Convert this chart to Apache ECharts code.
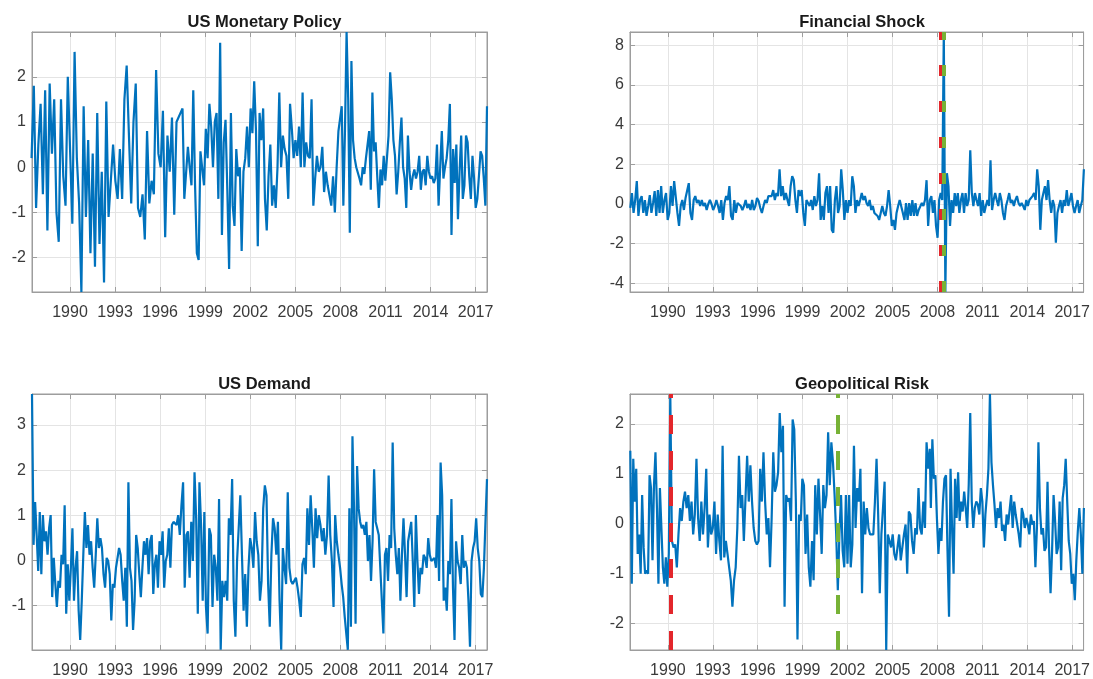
<!DOCTYPE html>
<html><head><meta charset="utf-8">
<script src="https://cdn.jsdelivr.net/npm/echarts@6/dist/echarts.min.js"></script>
<style>html,body{margin:0;padding:0;background:#fff}#c{width:1093px;height:679px}</style>
</head><body><div id="c"></div>
<script>
// ---------- data ----------
const titles = ['US Monetary Policy', 'Financial Shock', 'US Demand', 'Geopolitical Risk'];
const yearTicks = [1990, 1993, 1996, 1999, 2002, 2005, 2008, 2011, 2014, 2017];
const yTicks = [[-2, -1, 0, 1, 2], [-4, -2, 0, 2, 4, 6, 8], [-1, 0, 1, 2, 3], [-2, -1, 0, 1, 2]];

// US Monetary Policy
const mpA = [0.2,1.8,-0.9,0.5,1.4,-0.6,1.7,-1.4,1.85,0.3,1.5,-1.0,-1.65,1.5,-0.2,-0.85,2.0,0.4,-1.25,2.55,0.2,-0.8,-2.76,1.35,-1.1,0.6,-1.9,0.3,-2.2,1.2,-1.7,-0.1,-2.55,1.45,-1.1,-0.3,0.5,-0.3,-0.7,0.4,-0.7,1.5,2.25,0.7,-0.8,1.0,1.85,-0.9,-1.1,-0.6,-1.6,0.8,-0.8,-0.3,-0.6,2.15,0.3,0.0,1.25,-1.55,0.7,-0.1,1.1,-1.05,1.0];
const mpB = [1.3,-0.7,-0.7,0.45,0.0,-0.4,1.7,-0.4,-1.9,-2.05,0.35,0.35,-0.4,0.85,0.2,1.4,0.9,0,1.0,1.2,-0.7,2.75,-1.5,0.55,1.05,-0.5,-2.25,1.2,-0.85,-1.3,0.4,-0.2,0,-1.85,-0.1,0.2,0.9,0,1.3,0.75,1.9,0.8,-1.75,1.2,0.6,1.3,-0.7,-1.4,-0.2,0.5,-0.85,-0.4,-0.9,0,1.65,0,0.7,0.4,0.25,-0.7,1.4,0.85,0.2,0.6,0.25,0.9,0,1.65,0,0.55,0.25,0.2,1.5,-0.85,-0.25,0.25,-0.1,0,0.45,-0.55,-0.1,-0.4,-0.4,-0.85,-0.2,-1.0,0,0.8];
const mpC = [1.35,-0.85,0.8,2.99,1.5,-1.45,2.35,0.6,0.2,0,0,-0.25,-0.4,0,-0.15,0.2,0.2,0.8,-0.5,1.65,0.35,0.55,-0.2,-0.9,-0.05,-0.4,0.25,-0.3,0.2,0.7,2.1,1.5,0.6,0.25,-0.6,-0.1,0.55,1.1,0,-0.25,-0.9,0.7,-0.1,-0.5,-0.2,-0.05,-0.25,-0.1,0.25,-0.5,-0.1,-0.05,-0.4,0.25,-0.1,-0.25,-0.2,-0.35,-0.25,0.5,-0.85,0,0.8,-0.25,0,0.2,0.6,1.4,-1.5,0.4,-0.35,0.5,-1.15,-0.1,0.7,-0.7,-0.4,0.7,0.55,-0.2,-0.7,0.25,-0.25,-0.9,-0.7,-0.2,0.35,0.25,-0.25,-0.85,1.35];

// Financial Shock
const finA = [-0.2,0.55,-0.45,0.2,1.15,-0.6,0.2,0.4,-0.45,0.2,-0.6,-0.1,0.45,-0.45,0.05,0.65,-0.6,0.7,-0.45,0.9,-0.45,0.2,0.55,-0.8,-0.45,0.9,-0.1,1.15,1.2,-0.45,-1.1,-0.1,0.2,-0.3,0.3,0.2,1.05,-0.45,-0.8,0.2,0.4,0.05,0.2,-0.1,0.2,-0.1,0.05,-0.3,0,0.2,0,-0.3,-0.1,0.2,-0.1,-0.45,0.2,-0.8,0.05,0.4,0.2,0.9,-0.6,-0.8,0.2,-0.45,0.05,0,-0.1,-0.3,-0.1,0.2,-0.2,0,-0.3,0.2,-0.3,-0.1,0.3,0.15,-0.2,-0.45,-0.1,0.2,0.05,0.4,0.3];
const finB = [0.4,0.7,0.2,0.55,0.4,1.75,0.4,0.9,0.2,0.55,0.2,-0.1,0.9,1.4,1.2,0.2,-0.45,0.7,0.4,0.7,-0.45,-1.1,0.2,0.05,-0.1,0.2,-0.3,0.4,-0.1,0.2,1.55,-0.8,-0.1,-0.8,0.55,0.9,-0.45,0.9,-1.3,-1.45,0.2,0.9,-0.45,-0.1,1.75,0.7,-0.8,0.2,-0.45,0.2,-0.1,1.4,0.9,-0.45,0.2,-0.1,0.2,0.55,0.2,0.4,0.05,-0.1,0.2,-0.3,-0.1,-0.45,-0.35,-0.6,-0.8,-0.45,-0.1,-0.45,-0.6,-0.1,0.7,-0.1,-1.1,-0.8,-1.3,-0.45,-0.1,0.2,0.2,-0.45,-0.8,0.05,-0.8,0.05,-0.6,0.2,-0.6,0.05,-0.6,-0.3,-0.3,0.05,-0.1,0.2,1.2,-1.1];
const finC = [0.2,0.4,-0.45,0.2,-1.1,-1.7,0.2,0.55,0.2,8.66,-4.43,1.55,0.9,-1.1,0.2,-0.45,0.55,-0.1,0.55,-0.45,0.2,0.55,-0.45,0.55,-0.1,0.2,2.7,0.55,-0.1,0.55,0.2,-0.1,0.55,-0.6,0.2,-0.45,-0.1,0.2,-0.1,2.2,-0.3,0.2,0.55,0.2,-0.1,0.55,0.2,-0.45,-0.8,-0.1,0.2,0.55,0.05,0.2,-0.1,0.2,0.4,0.05,-0.1,0.05,-0.1,-0.3,0.2,-0.1,0.2,0.2,0.4,0.55,0.2,1.75,0.9,-1.3,0.2,0.55,0.9,0.2,1.2,0.2,-0.45,0.2,-0.1,-1.95,-0.45,-0.1,0.2,-0.45,0.2,-0.1,0.7,-0.1,0.2,0.55,-0.1,-0.45,-0.1,0.2,-0.45,-0.1,0.2,1.75];

// US Demand
const demA = [3.69,0.34,1.29,0.56,-0.24,1.07,-0.31,1.0,0.42,0.64,0.12,0.71,1.0,-0.82,0.05,-0.53,-1.04,-0.46,-0.61,0.12,-0.09,1.22,-1.19,-0.09,-0.9,-0.17,0.71,-0.9,-0.17,0.2,-1.12,-1.77,-0.9,0.12,1.07,0.27,0.78,0.12,0.42,-0.17,-0.61,0.12,0.93,0.27,0.49,0.27,-0.31,-0.61,0.05,-0.02,-0.31,-1.34,-0.53,-0.61,-0.17,-0.17,0.27,0.12,-0.46,-0.9,-0.17,-1.48,1.73,-0.17,-0.46,-1.55,-0.9,0.56,0.27,-0.31,-0.82,-0.17,0.42,0.12,0.49,-0.31,0.42,0.56,-0.75,-0.09,0.12,-0.61,0.42,0.12,0.64,-0.61,-0.02,0.12,0.71,-0.17,0.78,0.85,0.85,0.78,1.0];
const demB = [0.56,1.22,1.73,-0.61,0.56,0.64,-0.39,0.85,-0.02,1.95,0.93,-1.19,1.73,0.78,-0.9,1.07,-1.04,-1.63,0.71,0.56,-1.04,0.12,-0.17,-0.9,1.36,-1.99,-0.46,-0.82,-0.46,-0.9,0.93,0.56,1.8,-0.9,-1.7,-0.02,0.71,1.44,0.12,-1.12,-0.31,-1.48,-0.17,0.49,0.27,-0.17,1.07,0.42,0.12,-0.9,-0.46,1.15,1.66,1.44,-0.53,-1.48,0.12,0.93,0.71,0.12,0.85,-0.9,-1.99,0.27,-0.17,-0.53,1.51,-0.17,-0.46,-0.53,-0.46,-0.39,-0.61,-0.9,-1.26,-0.09,0.05,-0.31,1.15,0.34,1.44,0.71,-0.17,1.15,0.49,1.0,0.78,0.42,0.71,0.12,0.56,1.88,0.56,-0.02,-1.04,1.0,0.42,0.12];
const demC = [-0.17,-0.53,-0.82,-1.26,-1.63,-1.99,1.15,-1.48,2.75,1.15,-1.41,2.09,1.15,0.85,0.71,0.78,0.56,0.85,-0.02,0.56,-0.46,0.42,2.02,0.85,0.71,0.56,0.56,-0.9,-1.63,0.12,0.27,-0.46,0.56,0.27,2.61,0.71,0.12,-0.31,0.27,-0.9,0.12,0.93,0.12,-0.82,0.42,0.42,0.85,-0.02,-1.04,1.0,-0.02,-0.75,-0.17,-0.31,0.12,0.05,-0.17,0.49,0.12,-0.02,-0.02,0.05,-0.17,1.0,-0.46,2.17,1.44,-0.9,-0.61,-1.12,-0.02,-0.31,1.36,-0.61,-1.77,0.42,-0.02,-0.17,-0.53,0.56,-0.17,-0.02,-0.17,-0.9,-1.92,-0.02,0.27,0.42,0.93,0.27,-0.02,-0.75,-0.82,-0.17,0.85,1.8];

// Geopolitical Risk
const geoA1 = [1.46,-1.21,1.30,0.44,1.10,-0.61,-0.22,-1.01,0.57,-0.48,-1.01,-0.94,-1.01,0.97,0.71,-0.74,0.77,1.43,0.31,-1.21,0.71,-0.09,-0.88,-1.21,-0.68,-1.27,-0.61,2.6];
const geoA2 = [-0.35,-0.48,-0.42,-0.88,-0.22,0.31,0.05,0.44,0.64,0.31,0.57,0.05,0.44,-0.22,0.18,1.30,0.11,-0.35,0.44,-0.22,0.31,1.10,-0.48,0.18,-0.22,-0.09,0.44,-0.61,0.18,-0.35,-0.74,1.56,-0.68,-0.35,-0.61,-0.88,-1.14,-1.67,-1.14,-0.88,-0.09,1.36,0.31,0.57,-0.35,-0.35,1.36,0.44,1.17,0.44,-0.09,-0.35,-0.42,-0.35,1.10,0.44,1.43,0.44,-0.22,0.11,-0.88];
const geoB = [0.11,1.43,0.64,0.77,1.03,2.22,1.43,1.96,-1.67,0.57,0.44,0.51,0.05,2.09,1.89,0.44,-2.33,0.18,0.05,0.9,0.77,-0.61,0.18,-0.88,-1.27,-0.35,-1.14,0.77,-0.22,0.9,0.18,-0.61,0.77,0.31,0.57,1.83,0.77,1.63,1.23,0.57,-0.22,-1.34,-0.22,0.57,-0.55,-0.88,0.57,-0.81,0.57,-0.88,-0.42,1.56,-0.09,0.71,0.44,1.1,-1.4,0.44,-0.22,0.31,-0.09,-0.22,-0.22,-0.22,0.44,1.3,0.18,-1.4,-0.22,0.31,0.84,-2.54,-0.22,-0.35,-0.48,-0.22,-0.61,-0.74,-0.48,-0.22,-0.74,-0.48,-0.22,-0.02,-1.01,0.24,0.18,-0.35,-0.61,-0.09,-0.22,0.71,-0.09,-0.22,0.44,-0.09,1.63,1.1,1.5];
const geoC = [0.31,1.69,0.9,0.97,0.11,-0.61,-0.09,-0.35,0.44,0.9,0.97,-0.55,-1.87,1.1,-0.09,-1.01,0.9,0.11,1.03,0.05,0.44,0.24,0.64,0.31,-0.09,0.77,2.22,0.44,-0.09,0.31,0.44,0.38,0.18,0.71,0.44,-0.48,0.18,0.57,1.1,2.6,1.23,0.77,0.38,-0.09,0.31,0.11,0.44,-0.15,-0.02,-0.35,0.18,-0.02,-0.02,0.57,-0.09,0.44,0.18,-0.02,-0.22,-0.48,0.31,0.18,-0.09,0.11,-0.02,-0.22,0.18,-0.02,0.05,-0.88,-0.09,1.63,0.31,-0.22,-0.09,-0.55,-0.48,0.84,-0.48,-1.4,-0.55,0.57,0.05,-0.61,-0.48,0.44,-0.94,0.51,0.77,1.3,0.44,-0.35,-0.61,-1.21,-1.01,-1.54,-0.74,-0.15,0.31,-0.22,-1.01,0.31];

// event lines (year)
const finEvents = [{year: 2008.25, color: '#e3262b'}, {year: 2008.42, color: '#77b236'}];
const geoEvents = [{year: 1990.22, color: '#e3262b'}, {year: 2001.32, color: '#77b236'}];

// ---------- build ----------
const X_MIN = 1987.47, X_MAX = 2017.76;
function seg(t0, t1, vals) {
  const n = vals.length;
  return vals.map((v, i) => [t0 + (t1 - t0) * (n > 1 ? i / (n - 1) : 0), v]);
}
const seriesData = [
  [].concat(seg(1987.44, 1997.09, mpA), seg(1997.49, 2007.87, mpB), seg(2008.09, 2017.76, mpC)),
  [].concat(seg(1987.49, 1996.82, finA), seg(1996.93, 2007.38, finB), seg(2007.49, 2017.78, finC)),
  [].concat(seg(1987.47, 1997.20, demA), seg(1997.31, 2007.87, demB), seg(2007.98, 2017.76, demC)),
  [].concat(seg(1987.49, 1990.16, geoA1), seg(1990.27, 1996.82, geoA2), seg(1996.93, 2007.49, geoB), seg(2007.56, 2017.78, geoC))
];
const yRanges = [[-2.76, 2.99], [-4.43, 8.66], [-1.995, 3.69], [-2.54, 2.6]];
const events = [[], finEvents, [], geoEvents];
const dashes = [null, [11, 25], null, [19, 17]];

const FONT = '"Liberation Sans", Arial, Helvetica, sans-serif';
const BOX = '#9d9d9d', GRIDC = '#e4e4e4', TXT = '#3a3a3a', BLUE = '#0072BD';
const layout = [
  {left: 32, top: 32, width: 455, height: 260},
  {left: 630, top: 32, width: 454, height: 260},
  {left: 32, top: 394, width: 455, height: 260},
  {left: 630, top: 394, width: 454, height: 260}
];

const grid = [], xAxis = [], yAxis = [], series = [], title = [];
layout.forEach((g, i) => {
  grid.push(Object.assign({show: true, borderColor: BOX, borderWidth: 1, backgroundColor: '#fff', containLabel: false}, g));
  title.push({
    text: titles[i], left: g.left + g.width / 2, top: g.top - 23, textAlign: 'center',
    textStyle: {fontFamily: FONT, fontSize: 16.5, fontWeight: 'bold', color: '#1a1a1a'}
  });
  const xCommon = {
    type: 'value', gridIndex: i, min: X_MIN, max: X_MAX,
    axisLine: {show: true, onZero: false, lineStyle: {color: BOX, width: 1}},
    axisTick: {show: true, inside: true, length: 5, customValues: yearTicks, lineStyle: {color: BOX, width: 1}}
  };
  xAxis.push(Object.assign({}, xCommon, {
    position: 'bottom',
    splitLine: {show: true, lineStyle: {color: GRIDC, width: 1}},
    axisLabel: {
      show: true, margin: 13, fontSize: 16, color: TXT, fontFamily: FONT,
      customValues: yearTicks, formatter: v => String(Math.round(v))
    }
  }));
  xAxis.push(Object.assign({}, xCommon, {position: 'top', splitLine: {show: false}, axisLabel: {show: false}}));
  const [ymin, ymax] = yRanges[i];
  const yCommon = {
    type: 'value', gridIndex: i, min: ymin, max: ymax,
    axisLine: {show: true, onZero: false, lineStyle: {color: BOX, width: 1}},
    axisTick: {show: true, inside: true, length: 5, customValues: yTicks[i], lineStyle: {color: BOX, width: 1}}
  };
  yAxis.push(Object.assign({}, yCommon, {
    position: 'left',
    splitLine: {show: true, lineStyle: {color: GRIDC, width: 1}},
    axisLabel: {
      show: true, margin: 6, fontSize: 16, color: TXT, fontFamily: FONT,
      customValues: yTicks[i], formatter: v => String(Math.round(v))
    }
  }));
  yAxis.push(Object.assign({}, yCommon, {position: 'right', splitLine: {show: false}, axisLabel: {show: false}}));

  const s = {
    type: 'line', xAxisIndex: 2 * i, yAxisIndex: 2 * i, data: seriesData[i],
    showSymbol: false, symbol: 'none', clip: true, animation: false,
    lineStyle: {color: BLUE, width: 2.2}, itemStyle: {color: BLUE}, z: 3
  };
  if (events[i].length) {
    s.markLine = {
      silent: true, symbol: ['none', 'none'], animation: false, label: {show: false},
      lineStyle: {type: dashes[i], width: 4},
      data: events[i].map(e => ({xAxis: e.year, lineStyle: {color: e.color, type: dashes[i], width: 4}}))
    };
  }
  series.push(s);
});

const chart = echarts.init(document.getElementById('c'), null, {renderer: 'canvas'});
chart.setOption({animation: false, backgroundColor: '#fff', title, grid, xAxis, yAxis, series});
</script>
</body></html>
